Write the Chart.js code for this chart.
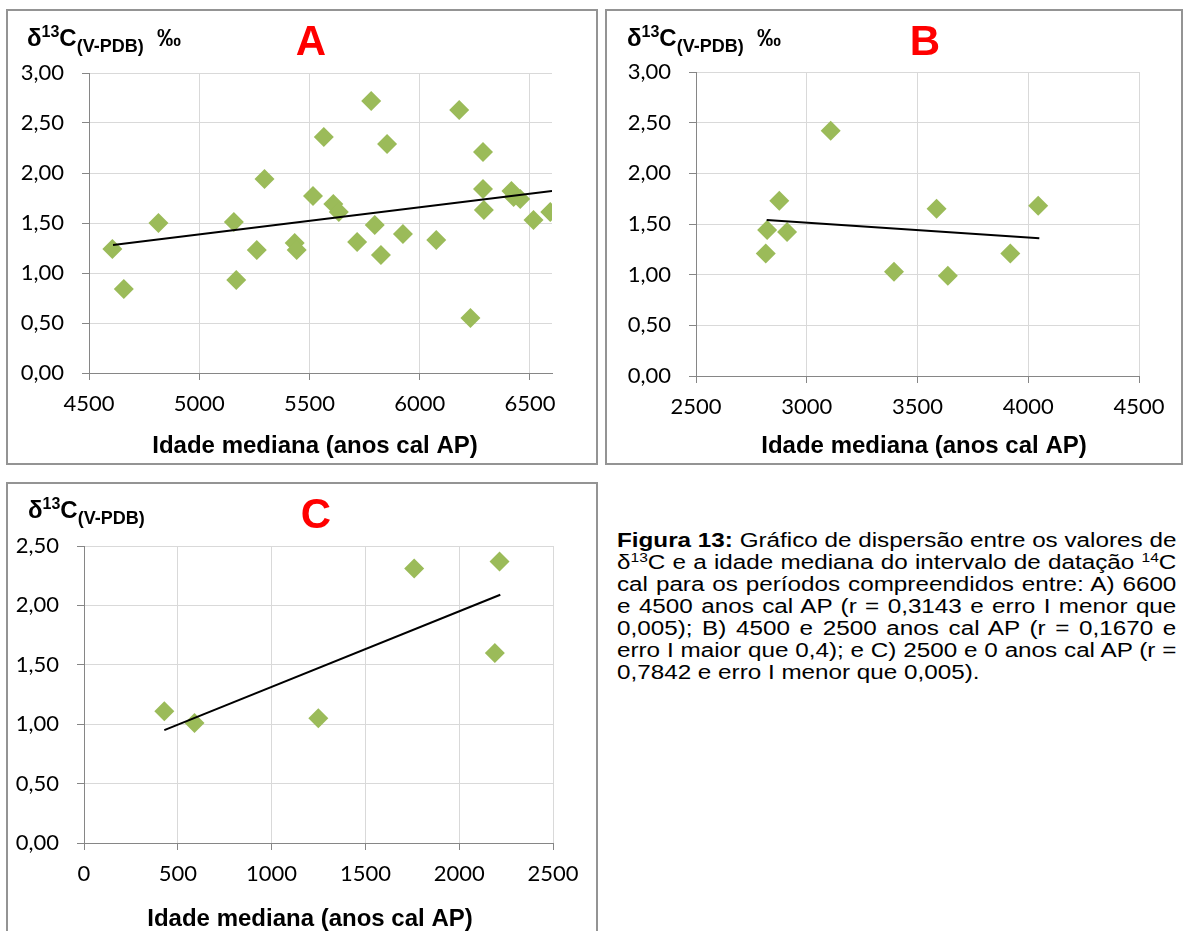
<!DOCTYPE html>
<html>
<head>
<meta charset="utf-8">
<script src="https://cdn.jsdelivr.net/npm/chart.js@4.4.1/dist/chart.umd.min.js"></script>
<style>
  html, body { margin: 0; padding: 0; background: #fff; width: 1183px; height: 931px; overflow: hidden; }
  .box { position: absolute; border: 2px solid #949494; box-sizing: border-box; pointer-events: none; }
  canvas { position: absolute; }
  #caption { position: absolute; left: 617px; top: 529px; width: 450px; font-family: "Liberation Sans", Arial, sans-serif; font-size: 19.5px; line-height: 22px; color: #000; transform: scaleX(1.243); transform-origin: left top; }
  #caption .ln { text-align: justify; text-align-last: justify; }
  #caption .ln.last { text-align: left; text-align-last: left; }
  #caption sup { font-size: 12.5px; vertical-align: 7px; line-height: 0; }
</style>
</head>
<body>
<div class="box" style="left:6px; top:9px; width:592px; height:456px;"></div>
<div class="box" style="left:605px; top:9px; width:578px; height:456px;"></div>
<div class="box" style="left:6px; top:482px; width:592px; height:470px;"></div>
<canvas id="cA" width="588" height="451" style="left:8px; top:11px;"></canvas>
<canvas id="cB" width="572" height="451" style="left:608px; top:11px;"></canvas>
<canvas id="cC" width="588" height="447" style="left:8px; top:485px;"></canvas>
<div id="caption">
  <div class="ln"><b>Figura 13:</b> Gráfico de dispersão entre os valores de</div>
  <div class="ln">δ<sup>13</sup>C e a idade mediana do intervalo de datação <sup>14</sup>C</div>
  <div class="ln">cal para os períodos compreendidos entre: A) 6600</div>
  <div class="ln">e 4500 anos cal AP (r = 0,3143 e erro I menor que</div>
  <div class="ln">0,005); B) 4500 e 2500 anos cal AP (r = 0,1670 e</div>
  <div class="ln">erro I maior que 0,4); e C) 2500 e 0 anos cal AP (r =</div>
  <div class="ln last">0,7842 e erro I menor que 0,005).</div>
</div>
<script>
// ---------- DATA ----------
// Panel A: 6600–4500 anos cal AP
const ageA  = [4606, 4658, 4815, 5157, 5168, 5261, 5296, 5433, 5442, 5516, 5565, 5608, 5633, 5716, 5780, 5796, 5824, 5852, 5924, 6075, 6179, 6230, 6287, 6287, 6291, 6416, 6426, 6456, 6516, 6592];
const d13cA = [1.24, 0.84, 1.50, 1.51, 0.93, 1.23, 1.94, 1.30, 1.23, 1.77, 2.36, 1.69, 1.61, 1.31, 2.72, 1.48, 1.18, 2.29, 1.39, 1.33, 2.63, 0.55, 2.21, 1.84, 1.63, 1.82, 1.76, 1.74, 1.53, 1.61];
const trendAgeA  = [4609, 6600];
const trendD13cA = [1.28, 1.82];

// Panel B: 4500–2500 anos cal AP
const ageB  = [2815, 2821, 2876, 2911, 3108, 3394, 3586, 3637, 3919, 4045];
const d13cB = [1.21, 1.44, 1.73, 1.42, 2.42, 1.03, 1.65, 0.99, 1.21, 1.68];
const trendAgeB  = [2819, 4050];
const trendD13cB = [1.54, 1.36];

// Panel C: 2500–0 anos cal AP
const ageC  = [428, 589, 1249, 1760, 2190, 2215];
const d13cC = [1.11, 1.01, 1.05, 2.31, 1.60, 2.37];
const trendAgeC  = [428, 2219];
const trendD13cC = [0.95, 2.09];

// Tick values and labels
const xTicksA = [4500, 5000, 5500, 6000, 6500];
const xTicksB = [2500, 3000, 3500, 4000, 4500];
const xTicksC = [0, 500, 1000, 1500, 2000, 2500];
const yTicks3  = [0, 0.5, 1, 1.5, 2, 2.5, 3];
const yLabels3 = ['0,00', '0,50', '1,00', '1,50', '2,00', '2,50', '3,00'];
const yTicks25  = [0, 0.5, 1, 1.5, 2, 2.5];
const yLabels25 = ['0,00', '0,50', '1,00', '1,50', '2,00', '2,50'];

// ---------- STYLE ----------
const POINT_COLOR = '#9bbb59';
const GRID_COLOR = '#d9d9d9';
const AXIS_COLOR = '#868686';
const TICK_FONT = { family: 'Lato', size: 22 };
const BOLD = '"Liberation Sans", Arial, sans-serif';

const richText = {
  id: 'richText',
  afterDraw(chart, args, opts) {
    const ctx = chart.ctx;
    (opts.items || []).forEach(item => {
      ctx.save();
      ctx.textBaseline = 'alphabetic';
      ctx.textAlign = 'left';
      let total = 0;
      item.parts.forEach(p => { ctx.font = p.font; total += ctx.measureText(p.text).width; });
      let x = item.align === 'center' ? item.x - total / 2 : item.x;
      item.parts.forEach(p => {
        ctx.font = p.font;
        ctx.fillStyle = p.color || item.color || '#000';
        ctx.fillText(p.text, x, item.y + (p.dy || 0));
        x += ctx.measureText(p.text).width;
      });
      ctx.restore();
    });
  }
};

function pairs(xs, ys) { return xs.map((x, i) => ({ x: x, y: ys[i] })); }

function makePanel(id, cfg) {
  const yLabelParts = [
    { text: 'δ', font: 'bold 24px ' + BOLD },
    { text: '13', font: 'bold 16px ' + BOLD, dy: -9 },
    { text: 'C', font: 'bold 24px ' + BOLD },
    { text: '(V-PDB)', font: 'bold 18px ' + BOLD, dy: 6 }
  ];
  if (cfg.permil) {
    yLabelParts.push({ text: '  ‰', font: 'bold 24px ' + BOLD });
  }
  new Chart(document.getElementById(id), {
    data: {
      datasets: [
        {
          type: 'line',
          data: pairs(cfg.trendX, cfg.trendY),
          borderColor: '#000',
          borderWidth: 2,
          pointRadius: 0,
          fill: false,
          order: 0
        },
        {
          type: 'scatter',
          data: pairs(cfg.x, cfg.y),
          pointStyle: 'rectRot',
          pointRadius: 10,
          pointHoverRadius: 10,
          backgroundColor: POINT_COLOR,
          borderColor: POINT_COLOR,
          borderWidth: 0,
          order: 1
        }
      ]
    },
    options: {
      responsive: false,
      animation: false,
      devicePixelRatio: 1,
      events: [],
      layout: { padding: { left: 0, top: cfg.padTop, right: cfg.padRight, bottom: 0 } },
      plugins: {
        legend: { display: false },
        tooltip: { enabled: false },
        richText: {
          items: [
            { x: cfg.yTitleX, y: cfg.yTitleY, parts: yLabelParts },
            { x: cfg.letterX, y: cfg.letterY, align: 'center', parts: [{ text: cfg.letter, font: 'bold 42px ' + BOLD, color: '#ff0000' }] },
            { x: cfg.xTitleX, y: cfg.xTitleY, align: 'center', parts: [{ text: 'Idade mediana (anos cal AP)', font: 'bold 24px ' + BOLD }] }
          ]
        }
      },
      scales: {
        x: {
          type: 'linear',
          position: 'bottom',
          min: cfg.xMin,
          max: cfg.xMax,
          afterBuildTicks: s => { s.ticks = cfg.xTicks.map(v => ({ value: v })); },
          afterFit: s => { s.height = cfg.xAxisH; },
          ticks: { font: TICK_FONT, color: '#000', padding: 11, autoSkip: false, maxRotation: 0, callback: v => String(v) },
          grid: { color: GRID_COLOR, lineWidth: 1, drawTicks: true, tickLength: 7, tickColor: AXIS_COLOR },
          border: { color: AXIS_COLOR, width: 1 }
        },
        y: {
          type: 'linear',
          min: 0,
          max: cfg.yMax,
          afterBuildTicks: s => { s.ticks = cfg.yTicks.map(v => ({ value: v })); },
          afterFit: s => { s.width = cfg.yAxisW; },
          ticks: { font: TICK_FONT, color: '#000', padding: 18, autoSkip: false, callback: (v, i) => cfg.yLabels[i] },
          grid: { color: GRID_COLOR, lineWidth: 1, drawTicks: true, tickLength: 7, tickColor: AXIS_COLOR },
          border: { color: AXIS_COLOR, width: 1 }
        }
      }
    },
    plugins: [richText]
  });
}

makePanel('cA', {
  x: ageA, y: d13cA, trendX: trendAgeA, trendY: trendD13cA,
  xMin: 4500, xMax: 6600, xTicks: xTicksA, yMax: 3, yTicks: yTicks3, yLabels: yLabels3,
  padTop: 62, padRight: 44, yAxisW: 81, xAxisH: 89,
  permil: true, yTitleX: 19, yTitleY: 35,
  letter: 'A', letterX: 303, letterY: 44,
  xTitleX: 307, xTitleY: 442
});
makePanel('cB', {
  x: ageB, y: d13cB, trendX: trendAgeB, trendY: trendD13cB,
  xMin: 2500, xMax: 4500, xTicks: xTicksB, yMax: 3, yTicks: yTicks3, yLabels: yLabels3,
  padTop: 61, padRight: 41, yAxisW: 88, xAxisH: 86,
  permil: true, yTitleX: 19, yTitleY: 35,
  letter: 'B', letterX: 317, letterY: 44,
  xTitleX: 316, xTitleY: 442
});
makePanel('cC', {
  x: ageC, y: d13cC, trendX: trendAgeC, trendY: trendD13cC,
  xMin: 0, xMax: 2500, xTicks: xTicksC, yMax: 2.5, yTicks: yTicks25, yLabels: yLabels25,
  padTop: 61, padRight: 43, yAxisW: 76, xAxisH: 89,
  permil: false, yTitleX: 20, yTitleY: 33,
  letter: 'C', letterX: 308, letterY: 43,
  xTitleX: 302, xTitleY: 441
});
</script>
</body>
</html>
